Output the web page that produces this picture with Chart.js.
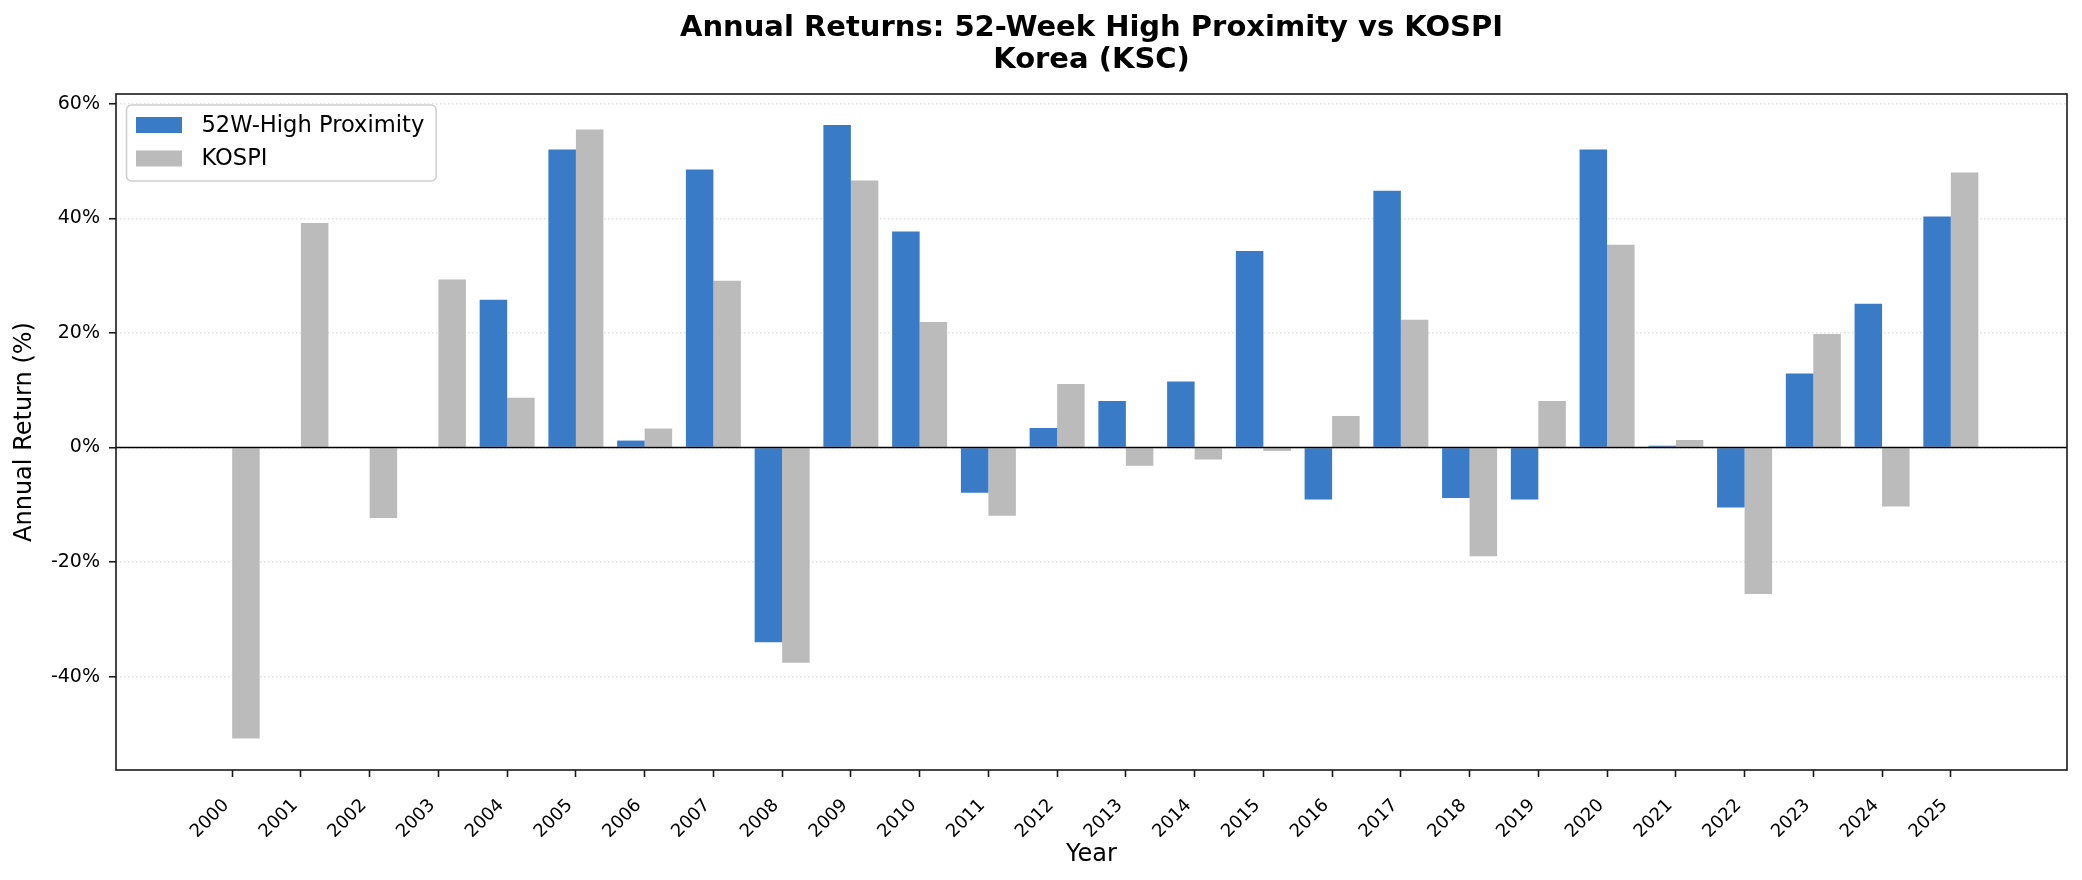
<!DOCTYPE html>
<html>
<head>
<meta charset="utf-8">
<title>Annual Returns: 52-Week High Proximity vs KOSPI</title>
<script src="https://cdn.jsdelivr.net/npm/chart.js@4.4.1/dist/chart.umd.min.js"></script>
<style>
    html, body { margin: 0; padding: 0; background: #ffffff; }
    canvas { display: block; }
</style>
</head>
<body>
<canvas id="returnsChart" width="2082" height="880"></canvas>
<script>
// Data
const years = [2000, 2001, 2002, 2003, 2004, 2005, 2006, 2007, 2008, 2009, 2010, 2011, 2012,
               2013, 2014, 2015, 2016, 2017, 2018, 2019, 2020, 2021, 2022, 2023, 2024, 2025];
const proximityReturns = [null, null, null, null, 25.8, 52.0, 1.2, 48.5, -34.0, 56.3, 37.7, -7.9, 3.4,
                          8.1, 11.5, 34.3, -9.1, 44.8, -8.8, -9.1, 52.0, 0.3, -10.5, 12.9, 25.1, 40.3];
const kospiReturns = [-50.8, 39.2, -12.3, 29.3, 8.7, 55.5, 3.3, 29.1, -37.6, 46.6, 21.9, -11.9, 11.1,
                      -3.2, -2.1, -0.6, 5.5, 22.3, -19.0, 8.1, 35.4, 1.3, -25.6, 19.8, -10.3, 48.0];
const yTicks = [-40, -20, 0, 20, 40, 60];
const seriesNames = ['52W-High Proximity', 'KOSPI'];

// Colors
const BLUE = '#3a7bc8';
const GREY = '#bbbbbb';
const AXIS = '#1a1a1a';

Chart.defaults.font.family = '"DejaVu Sans", sans-serif';
Chart.defaults.color = '#000';

// Zero line on top of the bars + box around the plot area
const frameAndZero = {
    id: 'frameAndZero',
    afterDatasetsDraw(chart) {
        const { ctx, chartArea: a, scales: { y } } = chart;
        const y0 = y.getPixelForValue(0);
        ctx.save();
        ctx.strokeStyle = '#000';
        ctx.lineWidth = 1.6;
        ctx.beginPath();
        ctx.moveTo(a.left, y0);
        ctx.lineTo(a.right, y0);
        ctx.stroke();
        ctx.strokeStyle = AXIS;
        ctx.strokeRect(a.left, a.top, a.right - a.left, a.bottom - a.top);
        ctx.restore();
    }
};

// Framed legend in the upper left corner of the plot
const boxLegend = {
    id: 'boxLegend',
    afterDraw(chart) {
        const { ctx, chartArea: a } = chart;
        const sets = chart.data.datasets;
        ctx.save();
        ctx.font = '22.6px "DejaVu Sans", sans-serif';
        const textW = Math.max(...sets.map(d => ctx.measureText(d.label).width));
        const x = a.left + 10.5;
        const y = a.top + 11;
        const w = 9.5 + 46 + 19.5 + textW + 12;
        const h = 76;
        ctx.beginPath();
        ctx.roundRect(x, y, w, h, 5);
        ctx.fillStyle = 'rgba(255, 255, 255, 0.8)';
        ctx.fill();
        ctx.strokeStyle = '#d0d0d0';
        ctx.lineWidth = 1.6;
        ctx.stroke();
        ctx.textBaseline = 'middle';
        sets.forEach((d, i) => {
            const cy = y + 20 + i * 33.5;
            ctx.fillStyle = d.backgroundColor;
            ctx.fillRect(x + 9.5, cy - 8, 46, 16);
            ctx.fillStyle = '#000';
            ctx.fillText(d.label, x + 9.5 + 46 + 19.5, cy + 1);
        });
        ctx.restore();
    }
};

new Chart(document.getElementById('returnsChart'), {
    type: 'bar',
    data: {
        labels: years,
        datasets: [
            { label: seriesNames[0], data: proximityReturns, backgroundColor: BLUE, borderWidth: 0 },
            { label: seriesNames[1], data: kospiReturns, backgroundColor: GREY, borderWidth: 0 }
        ]
    },
    options: {
        responsive: false,
        animation: false,
        devicePixelRatio: 1,
        layout: { padding: { left: 0, right: 15, top: 0, bottom: 0 } },
        datasets: { bar: { categoryPercentage: 0.8, barPercentage: 1.0 } },
        plugins: {
            legend: { display: false },
            tooltip: { enabled: false },
            title: {
                display: true,
                fullSize: false,
                text: ['Annual Returns: 52-Week High Proximity vs KOSPI', 'Korea (KSC)'],
                color: '#000',
                font: { size: 29, weight: 'bold', lineHeight: 1.1034 },
                padding: { top: 12, bottom: 18 }
            }
        },
        scales: {
            x: {
                type: 'linear',
                min: 1998.31,
                max: 2026.69,
                offset: false,
                grid: { display: true, offset: false, drawOnChartArea: false, drawTicks: true,
                        tickLength: 7, tickWidth: 1.6, tickColor: AXIS },
                border: { display: false },
                ticks: {
                    autoSkip: false,
                    minRotation: 45,
                    maxRotation: 45,
                    padding: 18,
                    labelOffset: -6,
                    color: '#000',
                    font: { size: 18 },
                    callback: v => String(v)
                },
                afterBuildTicks: s => { s.ticks = years.map(v => ({ value: v })); },
                afterFit: s => { s.height = 110; },
                title: { display: true, text: 'Year', color: '#000', font: { size: 24 },
                         padding: { top: 0, bottom: 11 } }
            },
            y: {
                min: -56.3,
                max: 61.7,
                grid: { color: '#e2e2e2', lineWidth: 1.5, tickLength: 7, tickWidth: 1.6, tickColor: AXIS },
                border: { display: false, dash: [1.5, 2.5] },
                ticks: {
                    padding: 9,
                    color: '#000',
                    font: { size: 19 },
                    callback: v => v + '%'
                },
                afterBuildTicks: s => { s.ticks = yTicks.map(v => ({ value: v })); },
                afterFit: s => { s.width = 116; },
                title: { display: true, text: 'Annual Return (%)', color: '#000', font: { size: 24 },
                         padding: { top: 10.6, bottom: 0 } }
            }
        }
    },
    plugins: [frameAndZero, boxLegend]
});
</script>
</body>
</html>
